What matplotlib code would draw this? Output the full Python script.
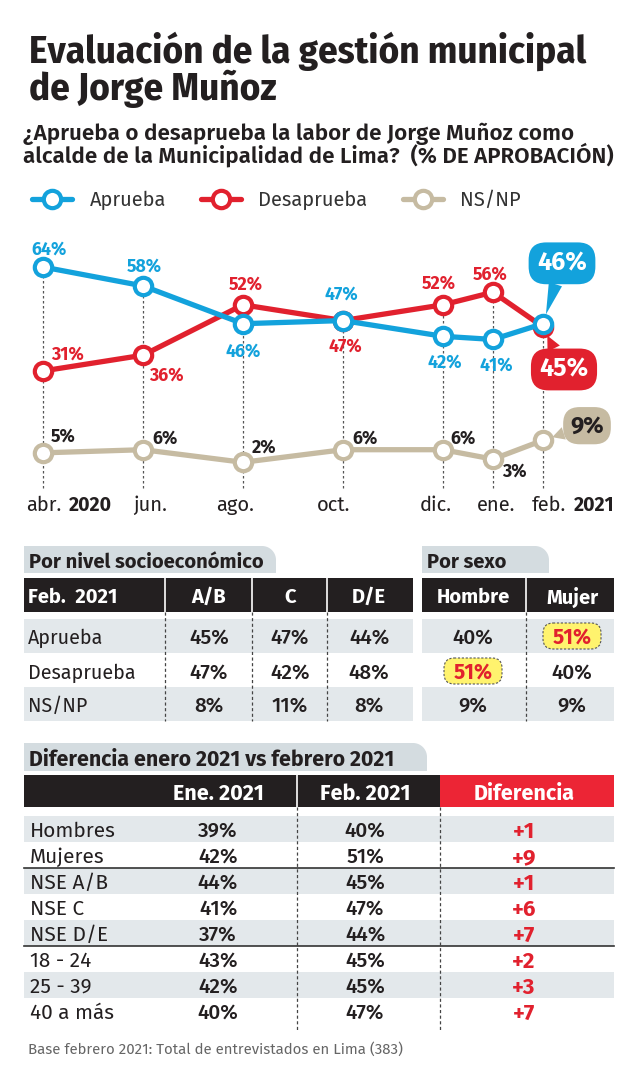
import matplotlib
matplotlib.use("Agg")
import matplotlib.pyplot as plt
import numpy as np
from matplotlib.patches import Rectangle, FancyBboxPatch, Polygon

plt.rcParams['font.family'] = ['Fira Sans', 'DejaVu Sans']
COND = ['Fira Sans Condensed', 'DejaVu Sans']
FIRA = ['Fira Sans', 'DejaVu Sans']

# ---------------- data ----------------
months = ["abr.", "jun.", "ago.", "oct.", "dic.", "ene.", "feb."]
month_idx = [0, 2, 4, 6, 8, 9, 10]
year_labels = ["2020", "", "", "", "", "", "2021"]
aprueba = [64, 58, 46, 47, 42, 41, 46]
desaprueba = [31, 36, 52, 47, 52, 56, 45]
nsnp = [5, 6, 2, 6, 6, 3, 9]
series_names = ["Aprueba", "Desaprueba", "NS/NP"]

nse_cols = ["A/B", "C", "D/E"]
sexo_cols = ["Hombre", "Mujer"]
row_labels = ["Aprueba", "Desaprueba", "NS/NP"]
nse_values = [[45, 47, 44], [47, 42, 48], [8, 11, 8]]
sexo_values = [[40, 51], [51, 40], [9, 9]]
sexo_highlight = [(0, 1), (1, 0)]

dif_labels = ["Hombres", "Mujeres", "NSE A/B", "NSE C", "NSE D/E", "18 - 24", "25 - 39", "40 a más"]
ene_2021 = [39, 42, 44, 41, 37, 43, 42, 40]
feb_2021 = [40, 51, 45, 47, 44, 45, 45, 47]
diferencia = [1, 9, 1, 6, 7, 2, 3, 7]

# ---------------- styles ----------------
BLUE = "#13a2dc"
RED = "#e1212e"
TAN = "#c6bba2"
BLACK = "#231f20"
TABBG = "#d4dce0"
SHADE = "#e3e8eb"
RED_HDR = "#ec2535"
YELLOW = "#fff36e"

W, H = 640, 1075
fig = plt.figure(figsize=(W / 100, H / 100), dpi=100)
bg = fig.add_axes([0, 0, 1, 1])
bg.set_xlim(0, W)
bg.set_ylim(H, 0)
bg.axis('off')


def T(x, y, s, **kw):
    kw.setdefault('color', BLACK)
    kw.setdefault('va', 'center_baseline')
    bg.text(x, y, s, **kw)


# ---------------- titles ----------------
T(29, 63, "Evaluación de la gestión municipal", fontsize=28, fontweight='bold', va='baseline', family=COND)
T(29, 100, "de Jorge Muñoz", fontsize=28, fontweight='bold', va='baseline', family=COND)
T(23, 140, "¿Aprueba o desaprueba la labor de Jorge Muñoz como", fontsize=16.1, fontweight='semibold', va='baseline')
T(23, 163, "alcalde de la Municipalidad de Lima?  (% DE APROBACIÓN)", fontsize=16.1, fontweight='semibold', va='baseline')

# ---------------- line chart ----------------
ax = fig.add_axes([0, 1 - 520 / H, 1, 300 / H])
ax.set_facecolor('none')
ax.set_xlim(-43 / 50, (W - 43) / 50)
ax.set_ylim(64 - (520 - 267) / 3.15, 64 + (267 - 220) / 3.15)
ax.axis('off')

bottom_v = 64 - (488 - 267) / 3.15
tops = [max(a, b, c) for a, b, c in zip(aprueba, desaprueba, nsnp)]
ax.vlines(month_idx, bottom_v, tops, colors="#555555", linestyles=(0, (2, 2)), linewidth=0.9, zorder=1)

lines = []
for vals, col, name, z in zip([nsnp, desaprueba, aprueba], [TAN, RED, BLUE], ["NS/NP", "Desaprueba", "Aprueba"], [3, 4, 5]):
    ln, = ax.plot(month_idx, vals, color=col, lw=3.8, marker='o', ms=12.5, mfc='white', mec=col, mew=3.0,
                  zorder=z, label=name, solid_capstyle='round')
    lines.append(ln)
lines = lines[::-1]

# value labels (offsets in pixels)
ap_off = [(6, 19), (1, 21), (0, -26), (-2, 28), (2, -24), (3, -24)]
de_off = [(24, 18), (23, -18), (3, 22), (2, -24), (-4, 23), (-3, 20)]
ns_off = [(20, 18), (22, 13), (21, 17), (22, 13), (20, 13), (21, -10)]
for vals, offs, col in [(aprueba, ap_off, BLUE), (desaprueba, de_off, RED), (nsnp, ns_off, BLACK)]:
    for m, v, o in zip(month_idx[:-1], vals[:-1], offs):
        ax.annotate(f"{v}%", (m, v), xytext=o, textcoords='offset pixels', ha='center',
                    va='center_baseline', fontsize=12.8, fontweight='bold', color=col, zorder=6)

# bubbles for last values
bub = [(aprueba, BLUE, 'white', (19, 63), 18, 0.34), (desaprueba, RED, 'white', (21, -40), 18, 0.34),
       (nsnp, TAN, BLACK, (44, 17), 17, 0.3)]
for vals, fc, tc, o, fs, pad in bub:
    ax.annotate(f"{vals[-1]}%", (month_idx[-1], vals[-1]), xytext=o, textcoords='offset pixels',
                ha='center', va='center_baseline', fontsize=fs, fontweight='bold', color=tc, zorder=7,
                bbox=dict(boxstyle=f'round,pad={pad},rounding_size=0.7', fc=fc, ec='none'),
                arrowprops=dict(arrowstyle='wedge,tail_width=0.55,shrink_factor=0.5', fc=fc, ec='none',
                                shrinkA=0, shrinkB=7))

# month labels
m_dx = [-17, 7, -8, -9, -7, 3, -11]
y_dx = [26, 0, 0, 0, 0, 0, 31]
for m, lab, yl, dx, ydx in zip(month_idx, months, year_labels, m_dx, y_dx):
    if yl:
        ax.annotate(lab, (m, bottom_v), xytext=(dx, -15), textcoords='offset pixels',
                    ha='left', va='center_baseline', fontsize=14.5, color=BLACK)
        ax.annotate(yl, (m, bottom_v), xytext=(ydx, -15), textcoords='offset pixels',
                    ha='left', va='center_baseline', fontsize=14, fontweight='bold', color=BLACK)
    else:
        ax.annotate(lab, (m, bottom_v), xytext=(dx, -15), textcoords='offset pixels',
                    ha='center', va='center_baseline', fontsize=14.5, color=BLACK)

# legend
fig.legend(handles=lines, labels=series_names, loc='center left', bbox_to_anchor=(22 / W, 1 - 200 / H),
           ncol=3, frameon=False, fontsize=14.5, handlelength=2.0, handletextpad=0.85, columnspacing=1.75,
           borderpad=0, labelcolor="#333333")


# ---------------- tables ----------------
def tab(x0, x1, y0, y1, r, text, fam=FIRA, fs=14.5):
    t = np.linspace(0, np.pi / 2, 20)
    cx, cy = x1 - r, y0 + r
    pts = [(x0, y1), (x0, y0)] + [(cx + r * np.sin(a), cy - r * np.cos(a)) for a in t] + [(x1, y1)]
    bg.add_patch(Polygon(pts, closed=True, fc=TABBG, ec='none'))
    T(x0 + 5, (y0 + y1) / 2 + 1, text, fontsize=fs, fontweight='bold', family=fam)


def dashed_v(x, y0, y1):
    bg.plot([x, x], [y0, y1], color="#444444", lw=0.9, ls=(0, (2.5, 2)), zorder=3)


# Section 1: NSE / sexo
tab(24, 276, 546, 573, 14, "Por nivel socioeconómico")
tab(422, 549, 546, 573, 14, "Por sexo")

bg.add_patch(Rectangle((24, 578), 413 - 24, 34, fc=BLACK, ec='none'))
bg.add_patch(Rectangle((422, 578), 614 - 422, 34, fc=BLACK, ec='none'))
for xs in [165, 252, 327, 526]:
    bg.plot([xs, xs], [578, 612], color='white', lw=1.2)

row_y = [636, 671, 704]
row_top = [619, 653, 687]
for i in [0, 2]:
    bg.add_patch(Rectangle((24, row_top[i]), 413 - 24, 34, fc=SHADE, ec='none'))
    bg.add_patch(Rectangle((422, row_top[i]), 614 - 422, 34, fc=SHADE, ec='none'))

HFS = 14.5
T(28, 595, "Feb.  2021", fontsize=HFS, fontweight='bold', color='white')
nse_x = [209, 290, 369]
sexo_x = [473, 572]
for c, x in zip(nse_cols, nse_x):
    T(x, 595, c, fontsize=HFS, fontweight='bold', color='white', ha='center')
for c, x in zip(sexo_cols, sexo_x):
    T(x, 595, c, fontsize=HFS, fontweight='bold', color='white', ha='center')

VFS = 15
for i, lab in enumerate(row_labels):
    T(28, row_y[i], lab, fontsize=14.2, color=BLACK)
    for j, x in enumerate(nse_x):
        T(x, row_y[i], f"{nse_values[i][j]}%", fontsize=VFS, fontweight='medium', ha='center')
    for j, x in enumerate(sexo_x):
        if (i, j) in sexo_highlight:
            bg.add_patch(FancyBboxPatch((x - 27, row_y[i] - 11), 54, 22,
                                        boxstyle='round,pad=2,rounding_size=10', fc=YELLOW, ec='#555555',
                                        lw=0.8, ls=(0, (2, 1.5)), zorder=2))
            T(x, row_y[i], f"{sexo_values[i][j]}%", fontsize=VFS, fontweight='bold', ha='center', color=RED, zorder=4)
        else:
            T(x, row_y[i], f"{sexo_values[i][j]}%", fontsize=VFS, fontweight='medium', ha='center')

for xs in [165, 252, 327, 526]:
    dashed_v(xs, 612, 721)

# Section 2: diferencia
tab(24, 427, 743, 771, 14, "Diferencia enero 2021 vs febrero 2021", fs=15.3)
bg.add_patch(Rectangle((24, 775), 440 - 24, 32, fc=BLACK, ec='none'))
bg.add_patch(Rectangle((440, 775), 614 - 440, 32, fc=RED_HDR, ec='none'))
bg.plot([297, 297], [775, 807], color='white', lw=1.2)
hdr_x = [218, 365, 524]
for s, x in zip(["Ene. 2021", "Feb. 2021", "Diferencia"], hdr_x):
    T(x, 792, s, fontsize=15.5, fontweight='bold', color='white', ha='center')

pitch = 26
y0 = 816
for i, lab in enumerate(dif_labels):
    top = y0 + pitch * i
    if i % 2 == 0:
        bg.add_patch(Rectangle((24, top), 614 - 24, pitch, fc=SHADE, ec='none'))
    yc = top + pitch / 2
    T(30, yc, lab, fontsize=15)
    T(hdr_x[0], yc, f"{ene_2021[i]}%", fontsize=VFS, fontweight='medium', ha='center')
    T(hdr_x[1], yc, f"{feb_2021[i]}%", fontsize=VFS, fontweight='medium', ha='center')
    T(hdr_x[2], yc + 1, f"+{diferencia[i]}", fontsize=16, fontweight='bold', ha='center', color=RED)

for k in [2, 5]:
    yl = y0 + pitch * k
    bg.plot([24, 614], [yl, yl], color="#333333", lw=1.2, zorder=3)
dashed_v(297, 807, 1030)
dashed_v(440, 807, 1030)

T(28, 1048, "Base febrero 2021: Total de entrevistados en Lima (383)", fontsize=10.8, color="#666666")

fig.savefig("out.png", dpi=100)
